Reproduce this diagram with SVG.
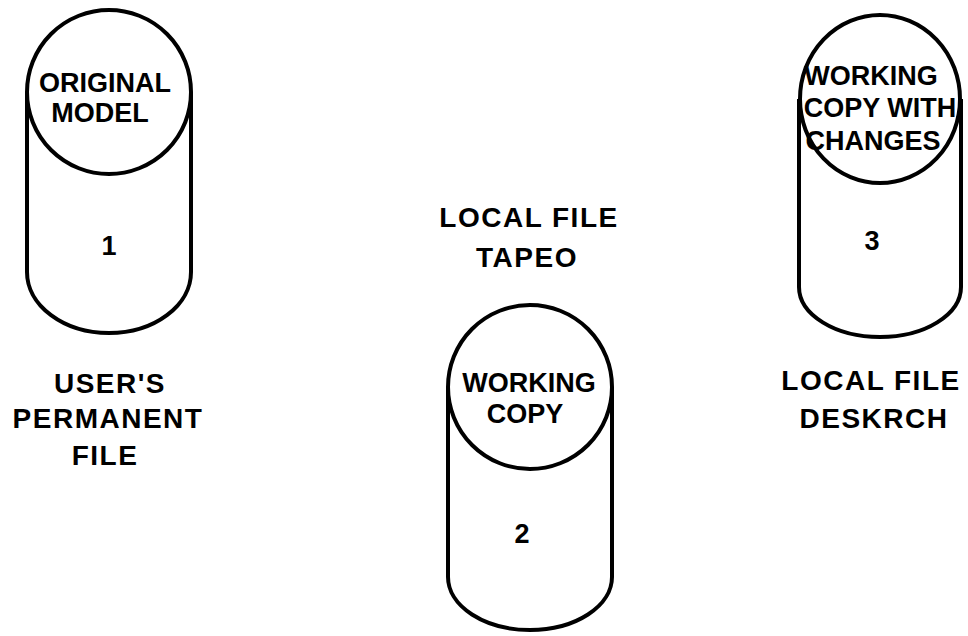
<svg xmlns="http://www.w3.org/2000/svg" width="968" height="636" viewBox="0 0 968 636">
<style>
.ln{fill:none;stroke:#000;stroke-width:4;stroke-linejoin:round}
.cap{fill:#fff;stroke:#000;stroke-width:4}
text{font-family:"Liberation Sans","DejaVu Sans",Arial,sans-serif;font-weight:bold;fill:#000;text-anchor:middle}
.in{font-size:27px}
.num{font-size:27px}
.lbl{font-size:28px;letter-spacing:1.5px}
</style>
<rect width="968" height="636" fill="#fff"/>
<g id="file1">
<path class="ln" d="M27,92 L27,272 A82,61 0 0 0 191,272 L191,92"/>
<circle class="cap" cx="109" cy="92" r="82"/>
<text class="in" x="105" y="92">ORIGINAL</text>
<text class="in" x="100" y="122">MODEL</text>
<text class="num" x="109" y="255">1</text>
</g>
<g id="file2">
<path class="ln" d="M448,387 L448,577 A82,53 0 0 0 612,577 L612,387"/>
<circle class="cap" cx="530" cy="387" r="82"/>
<text class="in" x="529" y="392">WORKING</text>
<text class="in" x="525" y="423">COPY</text>
<text class="num" x="522" y="543">2</text>
</g>
<g id="file3">
<path class="ln" d="M799,99 L799,287 A81,50 0 0 0 961,287 L961,99"/>
<ellipse class="cap" cx="880" cy="99" rx="80" ry="84"/>
<text class="in" x="871" y="85">WORKING</text>
<text class="in" x="880" y="117">COPY WITH</text>
<text class="in" x="873" y="150">CHANGES</text>
<text class="num" x="872" y="250">3</text>
</g>
<g id="label1">
<text class="lbl" x="110" y="393">USER'S</text>
<text class="lbl" x="108" y="428">PERMANENT</text>
<text class="lbl" x="105" y="465">FILE</text>
</g>
<g id="label2">
<text class="lbl" x="529" y="227">LOCAL FILE</text>
<text class="lbl" x="527" y="267">TAPEO</text>
</g>
<g id="label3">
<text class="lbl" x="871" y="390">LOCAL FILE</text>
<text class="lbl" x="874" y="428">DESKRCH</text>
</g>
<g id="connectors"></g>
</svg>
